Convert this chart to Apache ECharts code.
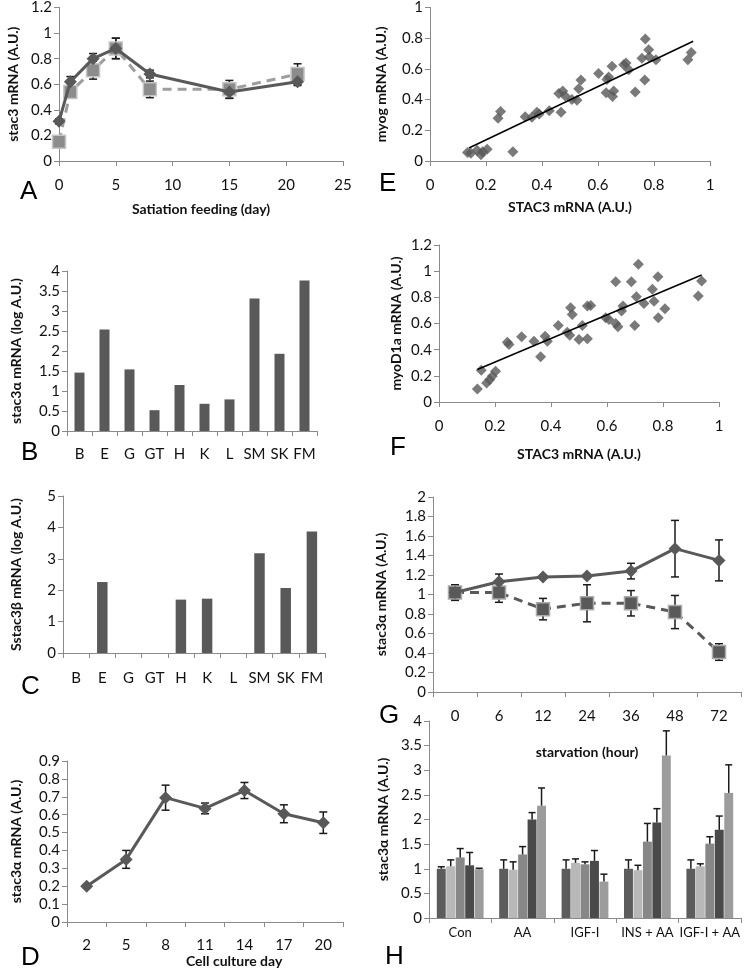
<!DOCTYPE html>
<html><head><meta charset="utf-8">
<script src="https://cdn.jsdelivr.net/npm/echarts@6/dist/echarts.min.js"></script>
<style>html,body{margin:0;padding:0;background:#fff}#c{width:745px;height:970px}</style>
</head><body><div id="c"></div>
<script>
// ---- Data ----
const aDays = [0, 1, 3, 5, 8, 15, 21];
const aFed = [0.31, 0.62, 0.80, 0.88, 0.68, 0.54, 0.62];
const aFedErr = [0.02, 0.04, 0.04, 0.08, 0.03, 0.05, 0.03];
const aSq = [0.15, 0.54, 0.71, 0.88, 0.56, 0.56, 0.68];
const aSqErr = [0.02, 0.03, 0.07, 0.08, 0.065, 0.07, 0.08];

const tissues = ['B', 'E', 'G', 'GT', 'H', 'K', 'L', 'SM', 'SK', 'FM'];
const stac3aLog = [1.46, 2.54, 1.54, 0.52, 1.15, 0.68, 0.79, 3.31, 1.93, 3.76];
const stac3bLog = [0, 2.26, 0, 0, 1.70, 1.73, 0, 3.18, 2.07, 3.87];

const cultureDays = ['2', '5', '8', '11', '14', '17', '20'];
const cultureVals = [0.20, 0.35, 0.695, 0.635, 0.735, 0.605, 0.555];
const cultureErr = [0.01, 0.05, 0.07, 0.03, 0.045, 0.05, 0.06];

const eX = [0.134,0.146,0.168,0.182,0.188,0.204,0.243,0.252,0.296,0.34,0.364,0.382,0.39,0.426,0.46,0.468,0.474,0.483,0.507,0.525,0.531,0.539,0.602,0.632,0.638,0.629,0.65,0.656,0.652,0.692,0.70,0.71,0.733,0.767,0.757,0.769,0.781,0.783,0.807,0.921,0.933];
const eY = [0.056,0.05,0.07,0.04,0.06,0.077,0.278,0.323,0.06,0.289,0.285,0.317,0.306,0.328,0.439,0.317,0.456,0.424,0.40,0.396,0.471,0.527,0.57,0.531,0.548,0.445,0.617,0.456,0.42,0.627,0.638,0.595,0.45,0.527,0.67,0.794,0.724,0.677,0.66,0.66,0.707];
const eTrendX = [0.139, 0.94];
const eTrendY = [0.085, 0.78];

const fX = [0.137,0.151,0.17,0.181,0.19,0.202,0.244,0.25,0.295,0.339,0.363,0.379,0.387,0.426,0.458,0.467,0.47,0.476,0.50,0.512,0.53,0.53,0.542,0.595,0.607,0.631,0.639,0.631,0.652,0.657,0.687,0.699,0.705,0.712,0.732,0.762,0.768,0.782,0.783,0.807,0.926,0.938];
const fY = [0.10,0.243,0.146,0.171,0.197,0.235,0.457,0.44,0.498,0.465,0.345,0.503,0.465,0.585,0.534,0.511,0.72,0.669,0.478,0.585,0.483,0.733,0.738,0.644,0.631,0.60,0.575,0.92,0.695,0.733,0.92,0.585,0.805,1.052,0.753,0.861,0.771,0.958,0.644,0.713,0.81,0.925];
const fTrendX = [0.137, 0.938];
const fTrendY = [0.248, 0.971];

const starvHours = ['0', '6', '12', '24', '36', '48', '72'];
const gFed = [1.02, 1.13, 1.18, 1.19, 1.24, 1.47, 1.35];
const gFedErr = [0.07, 0.08, 0, 0, 0.08, 0.29, 0.21];
const gStarved = [1.02, 1.02, 0.85, 0.91, 0.91, 0.82, 0.41];
const gStarvedErr = [0.08, 0.10, 0.11, 0.19, 0.13, 0.17, 0.085];

const treatments = ['Con', 'AA', 'IGF-I', 'INS + AA', 'IGF-I + AA'];
const hVals = [
  [1.00, 1.00, 1.00, 1.00, 1.00],
  [1.05, 0.98, 1.12, 0.97, 1.05],
  [1.23, 1.29, 1.09, 1.55, 1.51],
  [1.07, 2.00, 1.16, 1.94, 1.79],
  [0.99, 2.28, 0.74, 3.30, 2.54]
];
const hErr = [
  [0.04, 0.18, 0.18, 0.18, 0.18],
  [0.13, 0.16, 0.08, 0.10, 0.05],
  [0.18, 0.16, 0.05, 0.37, 0.14],
  [0.26, 0.14, 0.21, 0.28, 0.28],
  [0.02, 0.36, 0.15, 0.50, 0.57]
];
const hColors = ['#5c5c5c', '#b8b8b8', '#878787', '#4a4a4a', '#9c9c9c'];

// ---- Styles ----
const FONT = 'Lato';
const AX = '#8a8a8a';
const DARK = '#595959';
const tickLbl = (m, fs) => ({ color: '#111', fontFamily: FONT, fontSize: fs || 15, margin: m, interval: 0 });
const nameStyle = { color: '#111', fontFamily: FONT, fontSize: 14, fontWeight: 'bold' };

function valX(gi, min, max, interval, name, gap, lm) {
  return { gridIndex: gi, type: 'value', min, max, interval,
    axisLine: { show: true, lineStyle: { color: AX } },
    axisTick: { show: true, length: 5, lineStyle: { color: AX } },
    splitLine: { show: false }, axisLabel: tickLbl(lm),
    name, nameLocation: 'middle', nameGap: gap, nameTextStyle: nameStyle };
}
function catX(gi, data, lm, name, gap, fs) {
  return { gridIndex: gi, type: 'category', data,
    axisLine: { show: true, lineStyle: { color: AX } },
    axisTick: { show: true, length: 5, alignWithLabel: false, interval: 0, lineStyle: { color: AX } },
    axisLabel: tickLbl(lm, fs), splitLine: { show: false },
    name, nameLocation: 'middle', nameGap: gap, nameTextStyle: nameStyle };
}
function valY(gi, max, interval, name, gap) {
  return { gridIndex: gi, type: 'value', min: 0, max, interval,
    axisLine: { show: true, lineStyle: { color: AX } },
    axisTick: { show: true, length: 5, lineStyle: { color: AX } },
    splitLine: { show: false }, axisLabel: tickLbl(7),
    name, nameLocation: 'middle', nameRotate: 90, nameGap: gap, nameTextStyle: nameStyle };
}

function errSeries(ai, data, opts) {
  opts = opts || {};
  return {
    type: 'custom', xAxisIndex: ai, yAxisIndex: ai, data, z: opts.z || 1,
    encode: { x: 0, y: 1 }, silent: true,
    renderItem(params, api) {
      const x = api.value(0), v = api.value(1), e = api.value(2);
      if (!e) return null;
      let dx = 0;
      if (opts.group) {
        const w = api.size([1, 0])[0];
        const gw = w * (1 - opts.group.catGap);
        const n = opts.group.n, g = opts.group.barGap;
        const bw = gw / (n + (n - 1) * g);
        dx = -gw / 2 + opts.group.j * bw * (1 + g) + bw / 2;
      }
      const top = api.coord([x, v + e]);
      const bot = api.coord([x, opts.upOnly ? v : v - e]);
      const cap = opts.cap || 4;
      const st = { stroke: '#1a1a1a', lineWidth: 1.5 };
      const xx = top[0] + dx;
      const ch = [
        { type: 'line', shape: { x1: xx, y1: top[1], x2: xx, y2: bot[1] }, style: st },
        { type: 'line', shape: { x1: xx - cap, y1: top[1], x2: xx + cap, y2: top[1] }, style: st }
      ];
      if (!opts.upOnly) ch.push({ type: 'line', shape: { x1: xx - cap, y1: bot[1], x2: xx + cap, y2: bot[1] }, style: st });
      return { type: 'group', children: ch };
    }
  };
}

const zip2 = (a, b) => a.map((v, i) => [v, b[i]]);
const zip3 = (a, b, c) => a.map((v, i) => [v, b[i], c[i]]);
const idx3 = (b, c) => b.map((v, i) => [i, v, c[i]]);

const grids = [
  { left: 59, top: 5, width: 284, height: 156 },   // A
  { left: 67, top: 271, width: 250, height: 160 }, // B
  { left: 63, top: 496, width: 262, height: 157 }, // C
  { left: 67, top: 761, width: 276, height: 161 }, // D
  { left: 430, top: 4, width: 280, height: 157 },  // E
  { left: 439, top: 245, width: 280, height: 157 },// F
  { left: 433, top: 497, width: 308, height: 195 },// G
  { left: 429, top: 721, width: 312, height: 197 } // H
];

const xAxes = [
  valX(0, 0, 25, 5, 'Satiation feeding (day)', 41, 17),
  catX(1, tissues, 16),
  catX(2, tissues, 18),
  catX(3, cultureDays, 16),
  valX(4, 0, 1, 0.2, 'STAC3 mRNA (A.U.)', 39, 17),
  valX(5, 0, 1, 0.2, 'STAC3 mRNA (A.U.)', 45, 17),
  catX(6, starvHours, 17, 'starvation (hour)', 53),
  catX(7, treatments, 8, undefined, undefined, 13)
];
const yAxes = [
  valY(0, 1.2, 0.2, 'stac3 mRNA (A.U.)', 39),
  valY(1, 4, 0.5, 'stac3α mRNA (log A.U.)', 44),
  valY(2, 5, 1, 'Sstac3β mRNA (log A.U.)', 40),
  valY(3, 0.9, 0.1, 'stac3α mRNA (A.U.)', 44),
  valY(4, 1, 0.2, 'myog mRNA (A.U.)', 42),
  valY(5, 1.2, 0.2, 'myoD1a mRNA (A.U.)', 36),
  valY(6, 2, 0.2, 'stac3α mRNA (A.U.)', 45),
  valY(7, 4, 0.5, 'stac3α mRNA (A.U.)', 39)
];

const series = [];
// A
series.push(errSeries(0, zip3(aDays, aSq, aSqErr), { cap: 4 }));
series.push(errSeries(0, zip3(aDays, aFed, aFedErr), { cap: 4 }));
series.push({ type: 'line', xAxisIndex: 0, yAxisIndex: 0, data: zip2(aDays, aSq), z: 3,
  symbol: 'rect', symbolSize: 13, lineStyle: { color: '#9e9e9e', width: 3, type: [9, 6] },
  itemStyle: { color: '#8c8c8c', borderColor: '#c4c4c4', borderWidth: 1.5 } });
series.push({ type: 'line', xAxisIndex: 0, yAxisIndex: 0, data: zip2(aDays, aFed), z: 4,
  symbol: 'diamond', symbolSize: 13, lineStyle: { color: DARK, width: 3 },
  itemStyle: { color: DARK, borderWidth: 0 } });
// B, C
series.push({ type: 'bar', xAxisIndex: 1, yAxisIndex: 1, data: stac3aLog, barWidth: '40%', itemStyle: { color: DARK } });
series.push({ type: 'bar', xAxisIndex: 2, yAxisIndex: 2, data: stac3bLog, barWidth: '40%', itemStyle: { color: DARK } });
// D
series.push(errSeries(3, idx3(cultureVals, cultureErr), { cap: 4 }));
series.push({ type: 'line', xAxisIndex: 3, yAxisIndex: 3, data: cultureVals, z: 3,
  symbol: 'diamond', symbolSize: 13, lineStyle: { color: DARK, width: 3 }, itemStyle: { color: DARK } });
// E
series.push({ type: 'scatter', xAxisIndex: 4, yAxisIndex: 4, data: zip2(eX, eY),
  symbol: 'diamond', symbolSize: 11, itemStyle: { color: DARK } });
series.push({ type: 'line', xAxisIndex: 4, yAxisIndex: 4, data: zip2(eTrendX, eTrendY), z: 5,
  symbol: 'none', lineStyle: { color: '#000', width: 1.5 } });
// F
series.push({ type: 'scatter', xAxisIndex: 5, yAxisIndex: 5, data: zip2(fX, fY),
  symbol: 'diamond', symbolSize: 11, itemStyle: { color: DARK } });
series.push({ type: 'line', xAxisIndex: 5, yAxisIndex: 5, data: zip2(fTrendX, fTrendY), z: 5,
  symbol: 'none', lineStyle: { color: '#000', width: 1.5 } });
// G
series.push(errSeries(6, idx3(gFed, gFedErr), { cap: 4 }));
series.push(errSeries(6, idx3(gStarved, gStarvedErr), { cap: 4 }));
series.push({ type: 'line', xAxisIndex: 6, yAxisIndex: 6, data: gStarved, z: 3,
  symbol: 'rect', symbolSize: 13, lineStyle: { color: DARK, width: 3, type: [9, 6] },
  itemStyle: { color: DARK, borderColor: '#ababab', borderWidth: 1.5 } });
series.push({ type: 'line', xAxisIndex: 6, yAxisIndex: 6, data: gFed, z: 4,
  symbol: 'diamond', symbolSize: 13, lineStyle: { color: DARK, width: 3 }, itemStyle: { color: DARK } });
// H
const H_CAT_GAP = 0.25, H_BAR_GAP = 0.06;
hVals.forEach((vals, j) => {
  series.push({ type: 'bar', xAxisIndex: 7, yAxisIndex: 7, data: vals,
    barCategoryGap: (H_CAT_GAP * 100) + '%', barGap: (H_BAR_GAP * 100) + '%',
    itemStyle: { color: hColors[j] } });
});
hVals.forEach((vals, j) => {
  series.push(errSeries(7, idx3(vals, hErr[j]), { cap: 3.5, upOnly: true, z: 5,
    group: { n: hVals.length, j, catGap: H_CAT_GAP, barGap: H_BAR_GAP } }));
});

const letter = (t, x, y) => ({ type: 'text', left: x, top: y,
  style: { text: t, font: '26px "Liberation Sans", Arial, sans-serif', fill: '#000' } });

const chart = echarts.init(document.getElementById('c'), null, { renderer: 'canvas' });
chart.setOption({
  animation: false,
  backgroundColor: '#fff',
  grid: grids,
  xAxis: xAxes,
  yAxis: yAxes,
  series,
  graphic: [
    letter('A', 20, 179), letter('B', 21, 440), letter('C', 21, 674), letter('D', 21, 945),
    letter('E', 379, 171), letter('F', 390, 435), letter('G', 379, 703), letter('H', 385, 944),
    { type: 'text', left: 186, top: 954, style: { text: 'Cell culture day',
      font: 'bold 14px Lato', fill: '#111' } }
  ]
});
</script></body></html>
